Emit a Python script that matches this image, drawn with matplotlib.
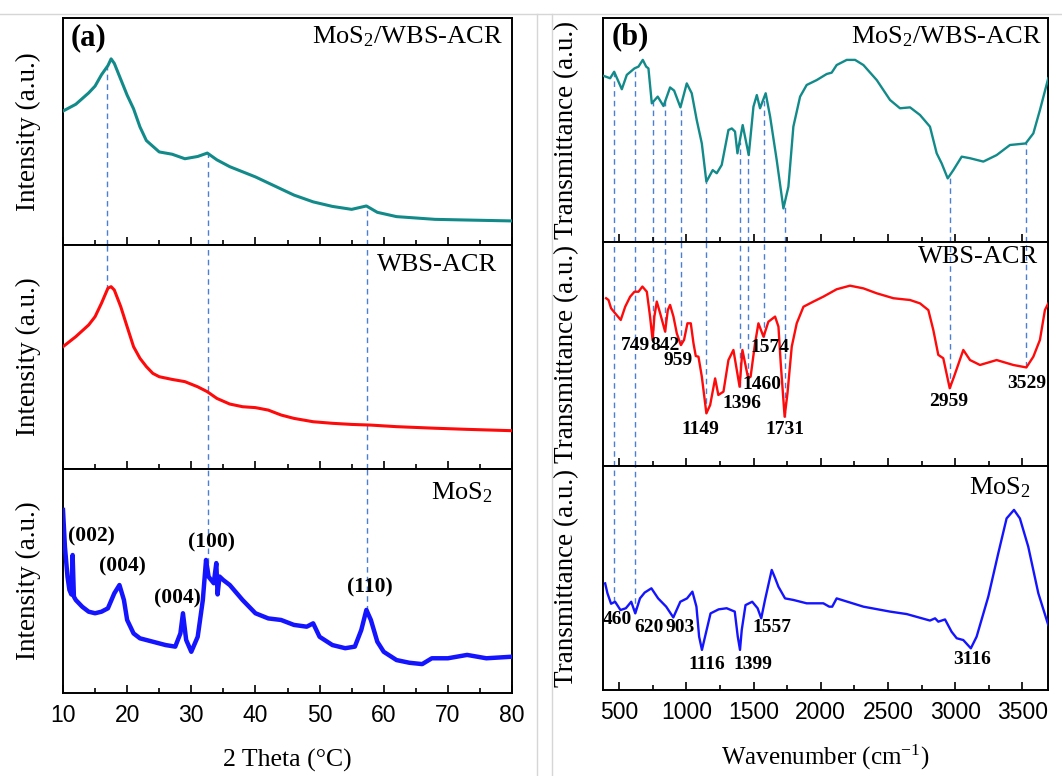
import numpy as np
import matplotlib
matplotlib.use("Agg")
import matplotlib.pyplot as plt
from matplotlib.ticker import MultipleLocator
from matplotlib.lines import Line2D

plt.rcParams["font.family"] = "Liberation Serif"
plt.rcParams["mathtext.fontset"] = "custom"
plt.rcParams["mathtext.rm"] = "Liberation Serif"
plt.rcParams["mathtext.it"] = "Liberation Serif:italic"
plt.rcParams["mathtext.bf"] = "Liberation Serif:bold"

# ---- XRD patterns, panel (a) ----
tt_composite = [10, 12, 14, 15, 16, 17, 17.5, 18, 19, 20, 21, 22, 23, 25, 27, 29, 31, 32.5, 34, 36,
                40, 43, 46, 49, 52, 55, 57.3, 59, 62, 68, 73, 80]
int_composite = [59, 62, 67, 70, 75, 79, 82, 80, 73, 66, 60, 52, 46, 41, 40, 38, 39, 40.5, 37.5, 34.5,
                 30, 26, 22, 19, 17, 15.7, 17.2, 14.4, 12.5, 11.3, 11, 10.6]

tt_wbs = [10, 12, 14, 15, 16, 17, 17.5, 18, 19, 20, 21, 22, 23, 24, 25, 27, 29, 31, 32.5, 34,
          36, 38, 40, 42, 44, 46, 49, 52, 55, 58, 62, 68, 73, 80]
int_wbs = [54.6, 59.1, 64.3, 68, 74, 80.7, 81.4, 79.9, 72.5, 63.5, 54.6, 49.4, 45.7, 42.7, 41.2, 40, 39, 36.7, 34.5, 31.5,
           29, 27.8, 27.4, 26.3, 24.1, 22.6, 21.1, 20.4, 19.9, 19.6, 18.9, 18.2, 17.7, 17.1]

tt_mos2 = [10, 10.3, 10.7, 11, 11.3, 11.5, 11.7, 12, 13, 14, 15, 16, 17, 18, 18.8, 19.5, 20, 21, 22, 24,
           26, 27.5, 28.3, 28.7, 29.2, 30, 31, 31.8, 32.3, 32.7, 33.5, 33.9, 34.1, 34.4, 35, 36, 38, 40, 42, 44,
           46, 48, 49, 50, 52, 54, 55.5, 56.5, 57.3, 58, 59, 60, 62, 64, 66, 67.5, 70, 73, 76, 80]
int_mos2 = [81.7, 65.3, 51.9, 46, 44, 61.6, 43, 41.5, 38.5, 36.3, 35.6, 36.3, 37.8, 44.5, 48.2, 41.5, 32.6, 26.6, 24.4, 22.9,
            21.4, 20.7, 26.6, 35.6, 23.7, 18.4, 25.1, 41.5, 59.4, 51.9, 49, 58, 44, 52, 50.4, 48.2, 41.5, 35.6, 33.3, 32.6,
            30.4, 29.6, 31.1, 25.1, 21.4, 20, 20.7, 28.1, 37.1, 32.6, 22.9, 18.4, 14.7, 13.5, 12.9, 15.5, 15.5, 17, 15.5, 16.2]

xrd_ticks = [10, 20, 30, 40, 50, 60, 70, 80]
xrd_to_middle = [16.9]
xrd_to_bottom = [32.6, 57.4]
hkl_labels = ["(002)", "(004)", "(004)", "(100)", "(110)"]
hkl_pos = [(14.5, 70), (19.2, 56.7), (27.9, 42.4), (33.2, 67), (57.9, 47.3)]

# ---- FTIR spectra, panel (b) ----
wn_composite = [388, 433, 463, 520, 557, 614, 644, 676, 701, 718, 743, 787, 830, 879, 909, 956, 1003, 1040, 1077, 1115,
                1149, 1196, 1226, 1263, 1313, 1338, 1362, 1380, 1419, 1464, 1499, 1524, 1548, 1590, 1623, 1672, 1722, 1759, 1796, 1846,
                1895, 1970, 2044, 2081, 2118, 2193, 2255, 2317, 2416, 2515, 2589, 2664, 2738, 2812, 2862, 2899, 2944, 2986, 3048, 3110,
                3209, 3308, 3407, 3524, 3581, 3630, 3692]
tr_composite = [74.1, 73.1, 76.0, 68.2, 74.6, 77.5, 78.3, 81.3, 78.3, 77.5, 61.9, 64.9, 60.7, 69.0, 67.6, 60.1, 70.8, 66.4, 54.5, 44.0,
                26.9, 32.1, 30.7, 34.4, 50.0, 50.7, 49.3, 39.6, 52.2, 38.8, 60.4, 65.6, 59.7, 66.4, 56.0, 36.6, 15.0, 24.7, 51.5, 64.9,
                70.1, 72.3, 75.0, 75.6, 79.0, 81.3, 81.3, 79.0, 72.3, 63.4, 59.7, 60.1, 56.7, 51.5, 39.6, 35.1, 28.4, 32.1, 38.1, 37.4,
                35.9, 38.8, 43.3, 44.0, 48.5, 58.9, 73.1]

wn_wbs = [403, 421, 440, 470, 512, 545, 582, 614, 644, 673, 706, 730, 749, 762, 780, 805, 842, 862, 879, 904,
          929, 959, 983, 1008, 1033, 1053, 1070, 1090, 1115, 1149, 1177, 1214, 1238, 1276, 1313, 1350, 1396, 1417, 1460, 1478,
          1511, 1536, 1574, 1610, 1660, 1685, 1702, 1731, 1752, 1784, 1821, 1871, 1945, 2019, 2118, 2217, 2317, 2416, 2540, 2664,
          2738, 2800, 2837, 2874, 2911, 2959, 2991, 3060, 3110, 3184, 3308, 3432, 3529, 3581, 3630, 3667, 3692]
tr_wbs = [74.9, 74.1, 70.4, 68.2, 65.2, 71.1, 75.6, 77.8, 77.8, 80.1, 77.8, 66.7, 56.2, 66.7, 73.4, 68.2, 60.0, 69.6, 71.9, 66.7,
          59.2, 54.0, 56.3, 63.7, 63.7, 54.8, 49.1, 48.8, 39.9, 23.5, 27.2, 39.1, 31.7, 33.2, 47.3, 51.8, 35.4, 51.8, 39.1, 39.9,
          54.8, 63.7, 57.7, 64.4, 66.7, 62.2, 45.8, 22.0, 32.4, 53.3, 63.7, 71.1, 73.4, 75.6, 78.9, 80.5, 79.3, 77.1, 74.9, 74.1,
          72.6, 69.6, 60.7, 49.6, 48.1, 34.7, 39.9, 51.8, 47.3, 45.1, 47.3, 45.1, 44.0, 48.8, 56.3, 69.6, 72.6]

wn_mos2 = [396, 413, 440, 470, 510, 550, 590, 620, 655, 690, 740, 790, 850, 903, 955, 1005, 1045, 1075, 1095, 1116,
           1139, 1180, 1240, 1300, 1360, 1382, 1399, 1412, 1440, 1490, 1530, 1557, 1585, 1635, 1660, 1685, 1734, 1796, 1895, 2019,
           2063, 2085, 2118, 2317, 2515, 2639, 2812, 2850, 2874, 2924, 2973, 3011, 3060, 3116, 3159, 3246, 3320, 3382, 3437, 3481,
           3543, 3618, 3692]
tr_mos2 = [47.6, 43.2, 38.5, 39.4, 35.7, 36.5, 39.4, 34.2, 40.9, 43.5, 45.4, 40.9, 37.2, 32.4, 39.4, 40.9, 43.9, 37.2, 23.8, 17.9,
           23.8, 34.2, 36.0, 36.5, 35.0, 24.0, 17.9, 26.8, 37.9, 39.4, 36.5, 32.0, 40.2, 53.6, 50.0, 46.1, 40.9, 40.2, 38.7, 38.7,
           37.2, 37.2, 40.9, 37.2, 35.0, 33.9, 31.0, 32.0, 30.5, 31.5, 26.0, 23.1, 22.3, 18.6, 23.8, 41.7, 61.0, 76.6, 80.4, 76.6,
           64.0, 43.2, 29.0]

ftir_ticks = [500, 1000, 1500, 2000, 2500, 3000, 3500]
ftir_to_bottom = [460, 620]
ftir_to_middle = [749, 842, 959, 1149, 1396, 1460, 1574, 1731, 2959, 3529]
wbs_bands = ["749", "842", "959", "1149", "1396", "1460", "1574", "1731", "2959", "3529"]
wbs_band_pos = [(619, 54), (842, 54), (939, 47.3), (1102, 16.5), (1414, 27.7), (1563, 36.2),
                (1623, 52.7), (1734, 16.5), (2954, 29), (3533, 37)]
mos2_bands = ["460", "620", "903", "1116", "1399", "1557", "3116"]
mos2_band_pos = [(485, 31.3), (723, 28), (954, 28), (1154, 11.2), (1496, 11.2), (1638, 28), (3125, 13.8)]

TEAL = "#138a8a"
RED = "#ff0a0a"
BLUE = "#1414ff"
GUIDE = "#4a7fd6"

W, H = 1062, 776
fig = plt.figure(figsize=(W / 100, H / 100), dpi=100)


def box(left, top, right, bottom):
    return [left / W, 1 - bottom / H, (right - left) / W, (bottom - top) / H]


def style_axis(ax, xlim, minor, ticks, show_labels):
    ax.set_xlim(*xlim)
    ax.set_ylim(0, 100)
    ax.set_yticks([])
    ax.xaxis.set_minor_locator(MultipleLocator(minor))
    ax.set_xticks(ticks)
    if show_labels:
        ax.set_xticklabels([str(t) for t in ticks], fontfamily="Liberation Sans", fontsize=16.5)
    else:
        ax.set_xticklabels([])
    ax.tick_params(axis="x", which="major", direction="in", length=6, width=1.2, pad=8)
    ax.tick_params(axis="x", which="minor", direction="in", length=3.5, width=1.2)
    for sp in ax.spines.values():
        sp.set_linewidth(1.4)


def guide(ax, xs, lo, hi):
    ax.vlines(xs, lo, hi, colors=GUIDE, linewidth=1.0, linestyles=(0, (4, 3)), zorder=1)


# panel (a)
axa = [fig.add_axes(box(63, 18, 512, 245)),
       fig.add_axes(box(63, 245, 512, 469)),
       fig.add_axes(box(63, 469, 512, 693))]
for i, ax in enumerate(axa):
    style_axis(ax, (10, 80), 5, xrd_ticks, i == 2)
    ax.set_ylabel("Intensity (a.u.)", fontsize=19.5)
    ax.yaxis.set_label_coords(-0.05, 0.5)

axa[0].plot(tt_composite, int_composite, color=TEAL, lw=2.2, zorder=3)
axa[1].plot(tt_wbs, int_wbs, color=RED, lw=2.2, zorder=3)
axa[2].plot(tt_mos2, int_mos2, color=BLUE, lw=3.2, zorder=3)

for x in xrd_to_middle + xrd_to_bottom:
    guide(axa[0], x, 0, np.interp(x, tt_composite, int_composite))
for x in xrd_to_middle:
    guide(axa[1], x, np.interp(x, tt_wbs, int_wbs), 100)
for x in xrd_to_bottom:
    guide(axa[1], x, 0, 100)
    guide(axa[2], x, np.interp(x, tt_mos2, int_mos2), 100)

for lbl, (x, y) in zip(hkl_labels, hkl_pos):
    axa[2].text(x, y, lbl, fontsize=15.5, fontweight="bold", ha="center", va="center")

axa[0].text(0.018, 0.912, "(a)", transform=axa[0].transAxes, fontsize=22, fontweight="bold", va="center")
axa[0].text(0.98, 0.916, r"MoS$_2$/WBS-ACR", transform=axa[0].transAxes, fontsize=19, ha="right", va="center")
axa[1].text(0.967, 0.911, "WBS-ACR", transform=axa[1].transAxes, fontsize=19, ha="right", va="center")
axa[2].text(0.958, 0.893, r"MoS$_2$", transform=axa[2].transAxes, fontsize=19, ha="right", va="center")
axa[2].set_xlabel("2 Theta (°C)", fontsize=18.5)
axa[2].xaxis.set_label_coords(0.5, -0.25)

# panel (b)
axb = [fig.add_axes(box(603, 18, 1048, 242)),
       fig.add_axes(box(603, 242, 1048, 466)),
       fig.add_axes(box(603, 466, 1048, 690))]
for i, ax in enumerate(axb):
    style_axis(ax, (380, 3690), 250, ftir_ticks, i == 2)
    ax.set_ylabel("Transmittance (a.u.)", fontsize=19.5)
    ax.yaxis.set_label_coords(-0.054, 0.5)

axb[0].plot(wn_composite, tr_composite, color=TEAL, lw=1.7, zorder=3)
axb[1].plot(wn_wbs, tr_wbs, color=RED, lw=1.7, zorder=3)
axb[2].plot(wn_mos2, tr_mos2, color=BLUE, lw=1.7, zorder=3)

for x in ftir_to_bottom + ftir_to_middle:
    guide(axb[0], x, 0, np.interp(x, wn_composite, tr_composite))
for x in ftir_to_middle:
    guide(axb[1], x, np.interp(x, wn_wbs, tr_wbs), 100)
for x in ftir_to_bottom:
    guide(axb[1], x, 0, 100)
    guide(axb[2], x, np.interp(x, wn_mos2, tr_mos2), 100)

for lbl, (x, y) in zip(wbs_bands, wbs_band_pos):
    axb[1].text(x, y, lbl, fontsize=14, fontweight="bold", ha="center", va="center")
for lbl, (x, y) in zip(mos2_bands, mos2_band_pos):
    axb[2].text(x, y, lbl, fontsize=14, fontweight="bold", ha="center", va="center")

axb[0].text(0.02, 0.915, "(b)", transform=axb[0].transAxes, fontsize=22, fontweight="bold", va="center")
axb[0].text(0.987, 0.915, r"MoS$_2$/WBS-ACR", transform=axb[0].transAxes, fontsize=19, ha="right", va="center")
axb[1].text(0.978, 0.933, "WBS-ACR", transform=axb[1].transAxes, fontsize=19, ha="right", va="center")
axb[2].text(0.96, 0.902, r"MoS$_2$", transform=axb[2].transAxes, fontsize=19, ha="right", va="center")
axb[2].set_xlabel(r"Wavenumber (cm$^{-1}$)", fontsize=18)
axb[2].xaxis.set_label_coords(0.5, -0.235)

# thin frame lines separating the two panels
for xs, ys in [([0, 1], [1 - 14 / H] * 2), ([537 / W] * 2, [0, 1 - 14 / H]), ([552 / W] * 2, [0, 1 - 14 / H])]:
    fig.add_artist(Line2D(xs, ys, color="#d6d6d6", lw=1.0))

fig.savefig("out.png", dpi=100)
